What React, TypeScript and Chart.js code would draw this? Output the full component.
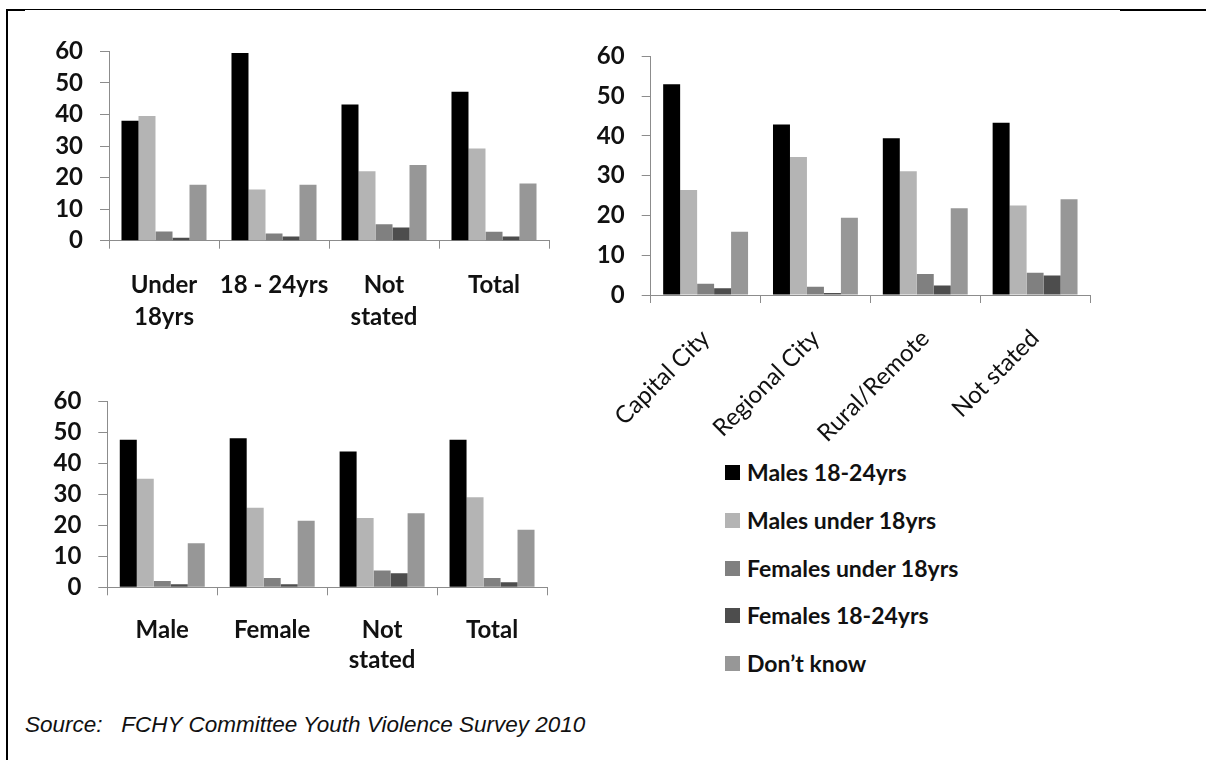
import React, { useEffect, useRef } from "react";
import { Chart, registerables } from "chart.js";

Chart.register(...registerables);

// ---------- data ----------
const seriesNames = [
  "Males 18-24yrs",
  "Males under 18yrs",
  "Females under 18yrs",
  "Females 18-24yrs",
  "Don\u2019t know",
];
const seriesColors = ["#000000", "#b4b4b4", "#808080", "#4d4d4d", "#979797"];

const yTickValues = [0, 10, 20, 30, 40, 50, 60];

// Chart 1: by age
const ageCategories = [["Under", "18yrs"], "18 - 24yrs", ["Not", "stated"], "Total"];
const ageMales1824 = [38.0, 59.5, 43.2, 47.2];
const ageMalesU18 = [39.5, 16.2, 22.0, 29.2];
const ageFemalesU18 = [2.9, 2.3, 5.2, 2.8];
const ageFemales1824 = [0.9, 1.3, 4.2, 1.3];
const ageDontKnow = [17.7, 17.7, 24.0, 18.1];

// Chart 2: by location
const locCategories = ["Capital City", "Regional City", "Rural/Remote", "Not stated"];
const locMales1824 = [53.0, 42.9, 39.4, 43.3];
const locMalesU18 = [26.4, 34.7, 31.1, 22.5];
const locFemalesU18 = [2.8, 2.1, 5.3, 5.6];
const locFemales1824 = [1.7, 0.5, 2.4, 4.9];
const locDontKnow = [15.9, 19.4, 21.8, 24.1];

// Chart 3: by gender
const genCategories = ["Male", "Female", ["Not", "stated"], "Total"];
const genMales1824 = [47.6, 48.1, 43.8, 47.6];
const genMalesU18 = [35.0, 25.7, 22.4, 29.1];
const genFemalesU18 = [2.0, 3.0, 5.4, 3.0];
const genFemales1824 = [1.0, 1.0, 4.5, 1.6];
const genDontKnow = [14.2, 21.5, 23.9, 18.6];

const sourceText = "Source:\u00a0\u00a0\u00a0FCHY Committee Youth Violence Survey 2010";

// ---------- chart helper ----------
type Geo = {
  padTop: number;
  padRight: number;
  yW: number;
  xH: number;
  xPad: number;
  lineH: number;
  rotate: boolean;
};

const AXIS_COLOR = "#8c8c8c";
const FONT = "Lato, 'Open Sans', sans-serif";

function buildConfig(labels: any[], series: number[][], geo: Geo): any {
  return {
    type: "bar",
    data: {
      labels,
      datasets: series.map((d, i) => ({
        label: seriesNames[i],
        data: d,
        backgroundColor: seriesColors[i],
        borderWidth: 0,
        barPercentage: 1,
        categoryPercentage: 0.773,
      })),
    },
    options: {
      responsive: false,
      animation: false,
      events: [],
      layout: { padding: { top: geo.padTop, right: geo.padRight, left: 0, bottom: 0 } },
      plugins: { legend: { display: false }, tooltip: { enabled: false } },
      scales: {
        x: {
          grid: {
            display: true,
            drawOnChartArea: false,
            drawTicks: true,
            tickLength: 8,
            color: AXIS_COLOR,
            offset: true,
          },
          border: { display: true, color: AXIS_COLOR, width: 1 },
          ticks: {
            autoSkip: false,
            maxRotation: geo.rotate ? 45 : 0,
            minRotation: geo.rotate ? 45 : 0,
            padding: geo.xPad,
            color: "#111",
            font: {
              family: FONT,
              size: 24,
              weight: geo.rotate ? "normal" : "bold",
              lineHeight: geo.lineH + "px",
            },
          },
          afterFit: (s: any) => {
            s.height = geo.xH;
          },
        },
        y: {
          min: 0,
          max: 60,
          afterBuildTicks: (s: any) => {
            s.ticks = yTickValues.map((v) => ({ value: v }));
          },
          grid: {
            display: true,
            drawOnChartArea: false,
            drawTicks: true,
            tickLength: 9,
            color: AXIS_COLOR,
          },
          border: { display: true, color: AXIS_COLOR, width: 1 },
          ticks: {
            autoSkip: false,
            padding: 17,
            color: "#111",
            font: { family: FONT, size: 24, weight: "bold" },
          },
          afterFit: (s: any) => {
            s.width = geo.yW;
          },
        },
      },
    },
  };
}

function BarCanvas(props: {
  left: number;
  top: number;
  width: number;
  height: number;
  labels: any[];
  series: number[][];
  geo: Geo;
}) {
  const ref = useRef<HTMLCanvasElement | null>(null);
  useEffect(() => {
    if (!ref.current) return;
    const chart = new Chart(ref.current, buildConfig(props.labels, props.series, props.geo));
    return () => chart.destroy();
  }, []);
  return (
    <canvas
      ref={ref}
      width={props.width}
      height={props.height}
      style={{
        position: "absolute",
        left: props.left,
        top: props.top,
        width: props.width,
        height: props.height,
        display: "block",
      }}
    />
  );
}

export default function App() {
  const legendRows = [472, 520, 568, 615, 663];
  return (
    <div
      style={{
        position: "absolute",
        left: 0,
        top: 0,
        width: 1206,
        height: 760,
        overflow: "hidden",
        background: "#fff",
      }}
    >
      {/* frame */}
      <div style={{ position: "absolute", left: 6, top: 9, width: 1200, height: 1, background: "#000" }} />
      <div style={{ position: "absolute", left: 6, top: 9, width: 19, height: 2, background: "#000" }} />
      <div style={{ position: "absolute", left: 1120, top: 9, width: 86, height: 2, background: "#000" }} />
      <div style={{ position: "absolute", left: 6, top: 9, width: 2, height: 751, background: "#000" }} />

      <BarCanvas
        left={0}
        top={20}
        width={560}
        height={330}
        labels={ageCategories}
        series={[ageMales1824, ageMalesU18, ageFemalesU18, ageFemales1824, ageDontKnow]}
        geo={{ padTop: 21, padRight: 11, yW: 109, xH: 109.3, xPad: 21, lineH: 32, rotate: false }}
      />
      <BarCanvas
        left={560}
        top={25}
        width={560}
        height={420}
        labels={locCategories}
        series={[locMales1824, locMalesU18, locFemalesU18, locFemales1824, locDontKnow]}
        geo={{ padTop: 25, padRight: 30, yW: 90.7, xH: 150, xPad: 21, lineH: 29, rotate: true }}
      />
      <BarCanvas
        left={0}
        top={370}
        width={560}
        height={320}
        labels={genCategories}
        series={[genMales1824, genMalesU18, genFemalesU18, genFemales1824, genDontKnow]}
        geo={{ padTop: 20, padRight: 13, yW: 107.3, xH: 102.7, xPad: 20, lineH: 30, rotate: false }}
      />

      {/* legend */}
      {seriesNames.map((name, i) => (
        <div
          key={name}
          style={{
            position: "absolute",
            left: 725,
            top: legendRows[i] - 16,
            height: 32,
            display: "flex",
            alignItems: "center",
            whiteSpace: "nowrap",
            fontFamily: FONT,
            fontWeight: "bold",
            fontSize: 23,
            color: "#111",
          }}
        >
          <span
            style={{
              display: "inline-block",
              width: 15,
              height: 15,
              background: seriesColors[i],
              marginRight: 7,
            }}
          />
          <span>{name}</span>
        </div>
      ))}

      {/* source */}
      <div
        style={{
          position: "absolute",
          left: 25,
          top: 712,
          fontFamily: "'Liberation Sans Narrow', 'Liberation Sans', sans-serif",
          fontStyle: "italic",
          fontSize: 22.5,
          color: "#111",
          whiteSpace: "nowrap",
        }}
      >
        {sourceText}
      </div>
    </div>
  );
}
